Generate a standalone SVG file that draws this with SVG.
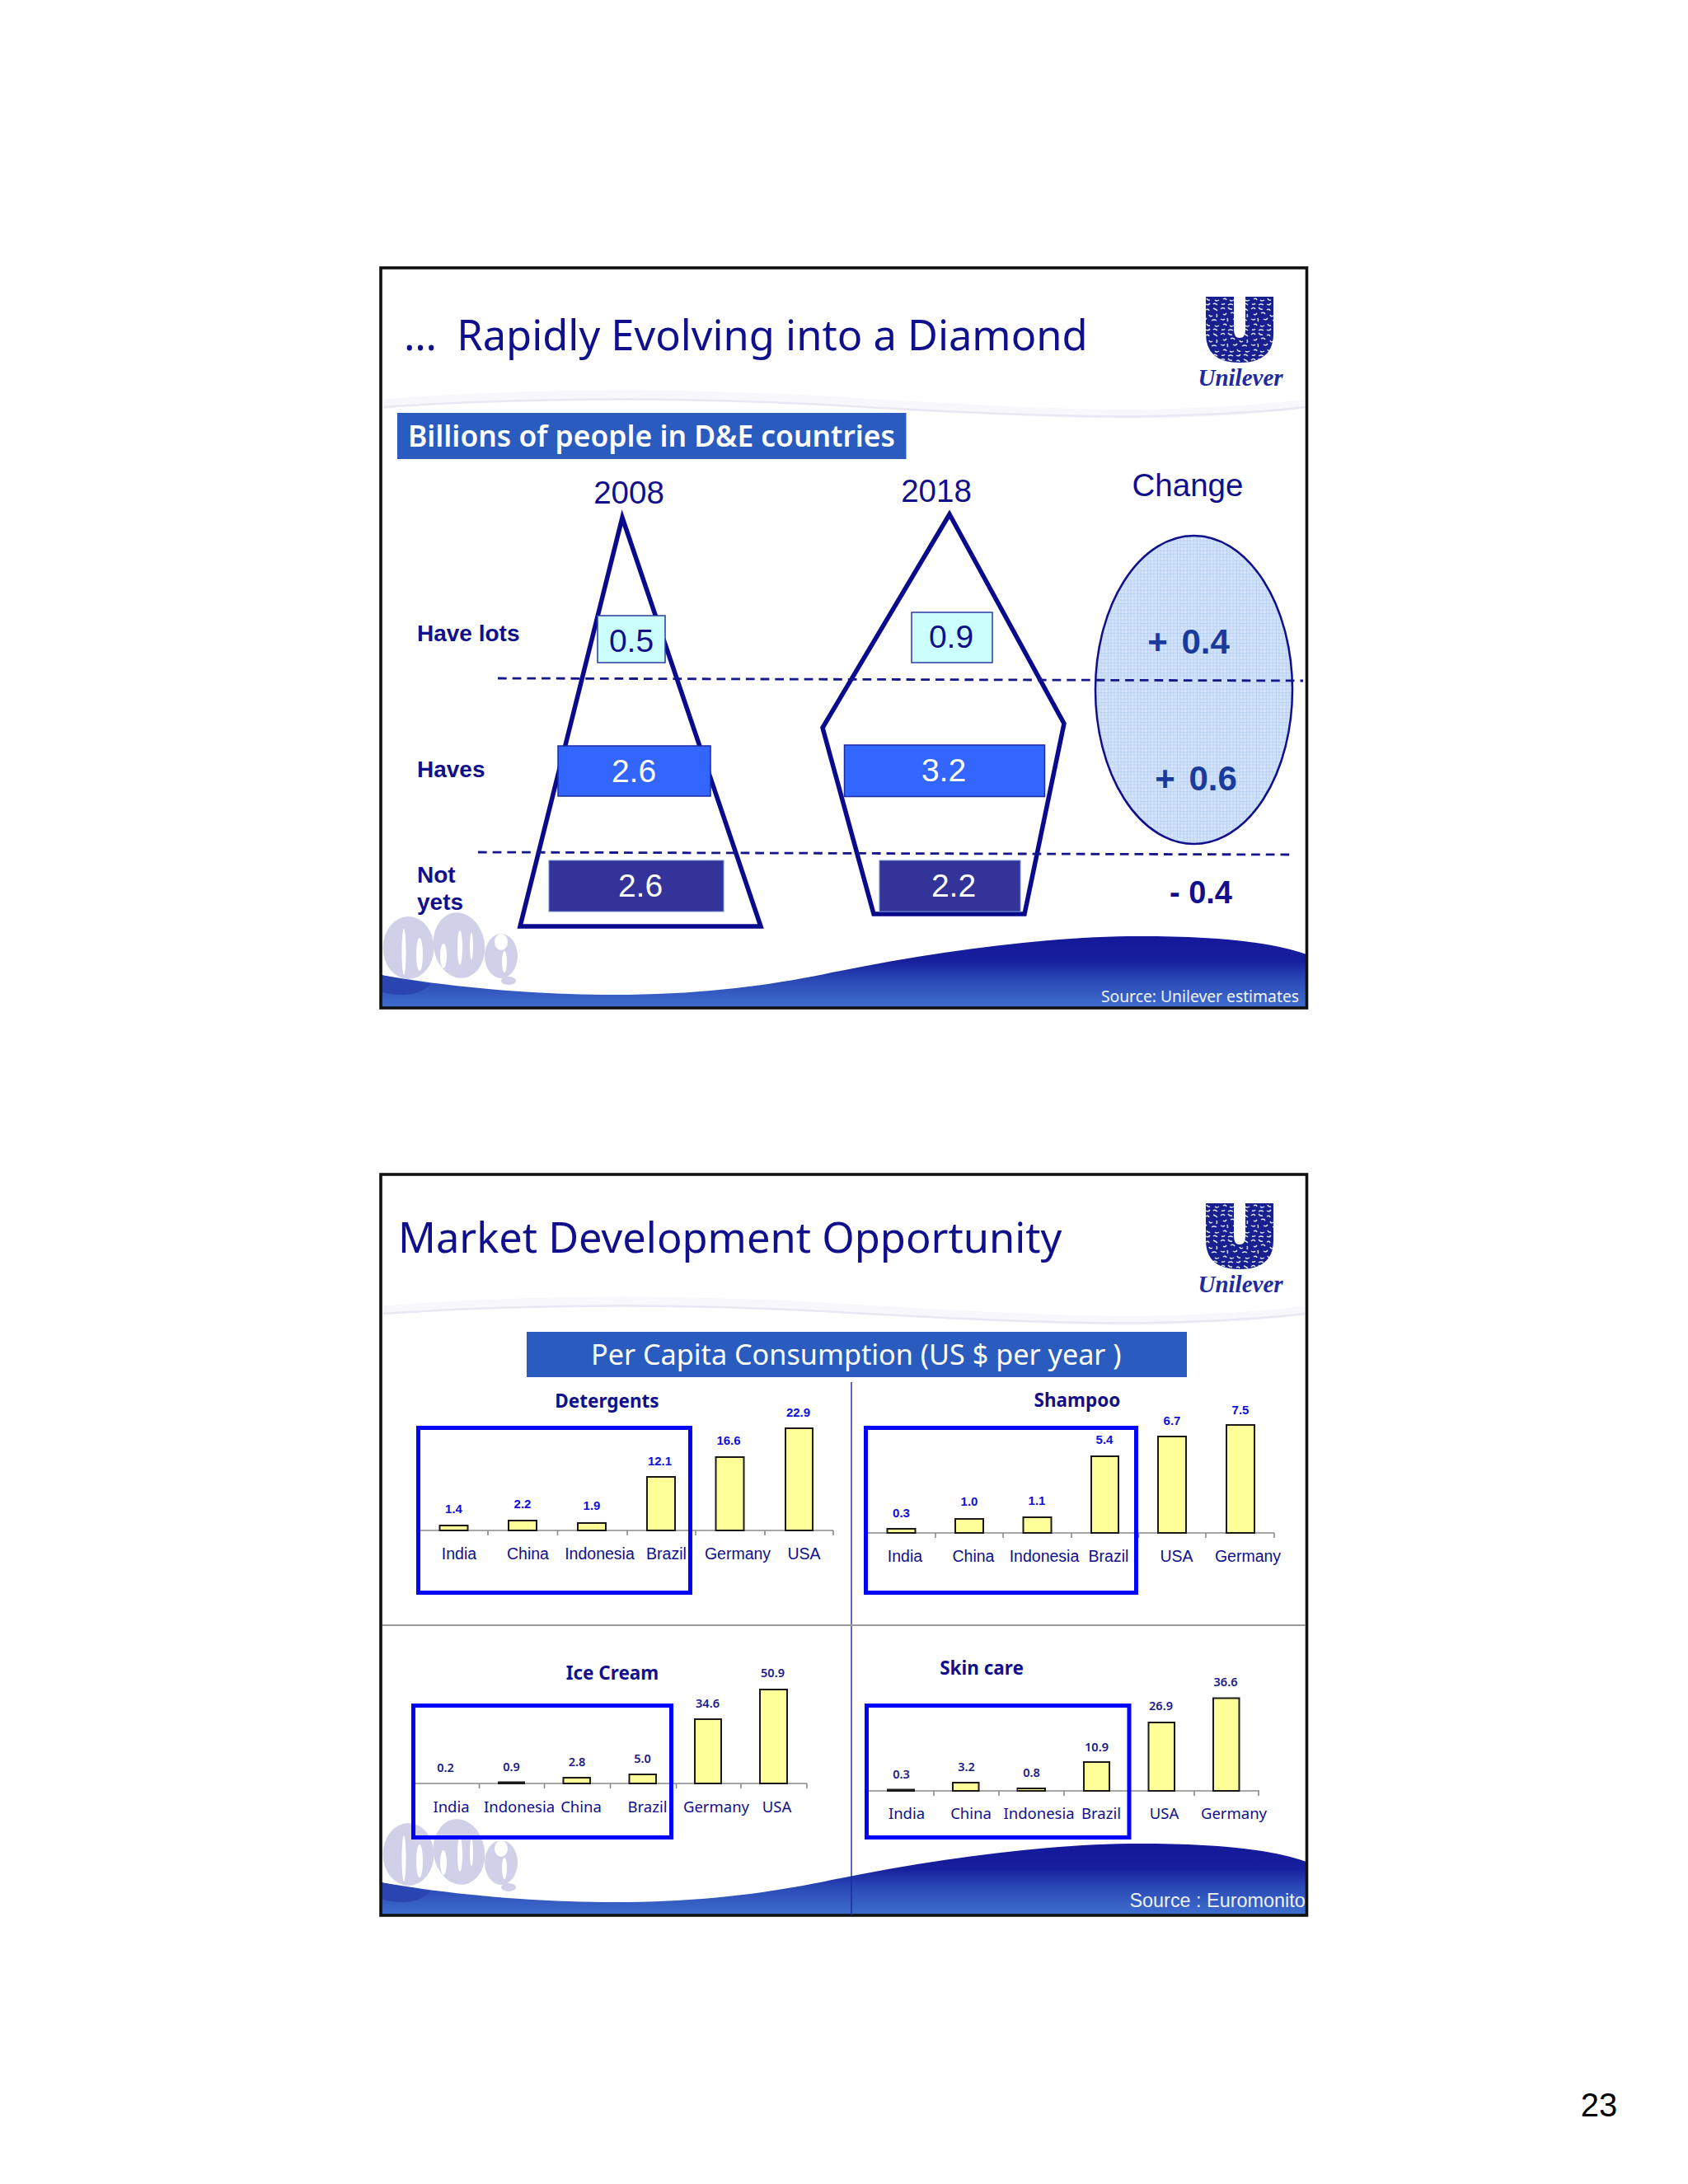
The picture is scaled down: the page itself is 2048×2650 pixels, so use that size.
<svg xmlns="http://www.w3.org/2000/svg" xmlns:xlink="http://www.w3.org/1999/xlink" width="2048" height="2650" viewBox="0 0 2048 2650">
<style>
text{font-family:"Liberation Sans",Arial,sans-serif;fill:#10108c}
.m{text-anchor:middle}
.noto{font-family:"Noto Sans","Open Sans",sans-serif}
.title{font-family:"Noto Sans","Open Sans",sans-serif;font-size:50.6px}
.panel{fill:#fff}
.frame{fill:none;stroke:#111;stroke-width:3.6}
.band{fill:#2a5bbf}
.yr{font-size:38.5px}
.num{font-size:39px;fill:#10108c;text-anchor:middle}
.wnum{font-size:39px;fill:#fff;text-anchor:middle}
.lab{font-size:28px;font-weight:bold}
.outline{fill:none;stroke:#0a0a8c;stroke-width:5.5;stroke-linejoin:miter}
.dash{stroke:#16168c;stroke-width:2.8;stroke-dasharray:10.7 7;fill:none}
.chg{font-size:42px;font-weight:bold;fill:#1a3a9c;text-anchor:middle;word-spacing:5px}
.bar{fill:#ffff99;stroke:#1a1a1a;stroke-width:2}
.axis{stroke:#8a8a8a;stroke-width:1.6;fill:none}
.hi{fill:none;stroke:#0000ff;stroke-width:5}
.v1{font-size:15px;font-weight:bold;fill:#1010dc;text-anchor:middle}
.v2{font-family:"Noto Sans","Open Sans",sans-serif;font-size:14.5px;font-weight:600;fill:#1a1a8c;text-anchor:middle}
.c1{font-size:19.5px;text-anchor:middle}
.c2{font-family:"Noto Sans","Open Sans",sans-serif;font-size:18.5px;text-anchor:middle}
.ct{font-family:"Noto Sans","Open Sans",sans-serif;font-size:22.5px;font-weight:bold;text-anchor:middle}
</style>
<defs>
<linearGradient id="waveFill" gradientUnits="userSpaceOnUse" x1="0" y1="1136" x2="0" y2="1223">
<stop offset="0" stop-color="#14189a"/><stop offset="0.35" stop-color="#171f9c"/><stop offset="0.6" stop-color="#2a48b4"/><stop offset="1" stop-color="#3f6fcf"/>
</linearGradient>
<pattern id="grid" patternUnits="userSpaceOnUse" width="12" height="12">
<rect width="12" height="12" fill="#d2e2f9"/>
<path d="M4 0V12M8 0V12M0 4H12M0 8H12" stroke="#bdd3f3" stroke-width="0.8" fill="none"/>
<path d="M0 0V12M0 0H12" stroke="#a9c6ec" stroke-width="1" fill="none"/>
<circle cx="6" cy="6" r="0.8" fill="#f4f8ff"/>
</pattern>
<pattern id="mottle" patternUnits="userSpaceOnUse" width="37" height="31">
<rect width="37" height="31" fill="#18208f"/>
<path d="M1 3q3-3 5 0M10 1q2 3 5 2M20 4q3-2 4 1M29 2q3 1 5 3M4 9q2 2 4-1M13 8q3-2 5 1M24 10q1 3 4 1M33 9q1 2 0 4M1 15q3 2 5 0M9 14q1 3 0 4M16 15q3 2 5-1M27 17q3-2 6 0M4 22q3-2 4 1M12 23q2 2 5 0M21 21q1 3 4 2M31 23q2 2 5 0M2 28q3 1 4-1M10 29q3-2 6 0M20 28q3 2 5-1M29 28q2-2 5 1" stroke="#dfe2f6" stroke-width="1.5" fill="none"/>
</pattern>
<g id="swoosh">
<path d="M465 490C640 476 820 476 1000 486C1150 495 1300 504 1400 502C1480 500 1540 496 1583 490" fill="none" stroke="#f8f8fc" stroke-width="11"/>
<path d="M465 494C640 482 820 482 1000 491C1150 500 1300 507 1400 505C1480 503 1540 499 1583 494" fill="none" stroke="#e9e7f3" stroke-width="2.5"/>
</g>
<g id="wave">
<path d="M462 1183C560 1200 660 1207 746 1207C850 1207 930 1196 1000 1182C1130 1155 1270 1136 1383 1136C1470 1136 1540 1142 1585 1158V1223H462Z" fill="url(#waveFill)"/>
<path d="M462 1183C480 1187 500 1190 522 1194C510 1208 485 1210 462 1203Z" fill="#2a44b0"/>
</g>
<g id="dna">
<ellipse cx="495.5" cy="1150" rx="31" ry="38" fill="#d0d1e9"/>
<ellipse cx="557" cy="1147" rx="31" ry="40" transform="rotate(-10 557 1147)" fill="#d0d1e9"/>
<ellipse cx="608" cy="1160" rx="20" ry="27" fill="#d0d1e9"/>
<ellipse cx="617" cy="1190" rx="9" ry="5" fill="#d0d1e9"/>
<ellipse cx="490" cy="1155" rx="2.5" ry="28" fill="#fff"/>
<ellipse cx="509" cy="1158" rx="4" ry="20" fill="#fff"/>
<ellipse cx="538" cy="1160" rx="4" ry="15" fill="#fff"/>
<ellipse cx="558" cy="1150" rx="3" ry="21" fill="#fff"/>
<ellipse cx="572" cy="1148" rx="2" ry="16" fill="#fff"/>
<ellipse cx="608" cy="1143" rx="8" ry="10" fill="#fff"/>
<ellipse cx="612" cy="1167" rx="3" ry="13" fill="#fff"/>
</g>
<g id="logo">
<path d="M1463 360H1497V400Q1497 410 1504 410Q1511 410 1511 400V360H1545V405Q1545 440 1504 440Q1463 440 1463 405Z" fill="url(#mottle)"/>
<text x="1505" y="468" text-anchor="middle" style="font-family:'Liberation Serif',serif;font-weight:bold;font-style:italic;font-size:29px;fill:#1f2a9e">Unilever</text>
</g>
</defs>
<rect width="2048" height="2650" fill="#fff"/>

<g id="slide1">
<rect class="panel" x="462" y="325" width="1123.5" height="898"/>
<use xlink:href="#swoosh" href="#swoosh"/>
<use xlink:href="#dna" href="#dna"/>
<use xlink:href="#wave" href="#wave"/>
<rect class="frame" x="462" y="325" width="1123.5" height="898"/>
<use xlink:href="#logo" href="#logo"/>
<text id="title1" class="title" x="490" y="425">…<tspan dx="11"> Rapidly Evolving into a Diamond</tspan></text>
<g id="band1"><rect class="band" x="482" y="501" width="617.5" height="56"/>
<text class="noto" x="495" y="542" font-size="35.4" font-weight="600" style="fill:#fff">Billions of people in D&amp;E countries</text></g>
<text class="yr m" x="763" y="611">2008</text>
<text class="yr m" x="1136" y="609">2018</text>
<text class="yr m" x="1441" y="602">Change</text>
<g id="row-labels">
<text class="lab" x="506" y="778">Have lots</text>
<text class="lab" x="506" y="943">Haves</text>
<text class="lab" x="506" y="1071">Not</text>
<text class="lab" x="506" y="1104">yets</text>
</g>
<g id="change-ellipse"><ellipse cx="1448.5" cy="837" rx="119.5" ry="187" fill="url(#grid)" stroke="#10108c" stroke-width="2.5"/></g>
<g id="pyramid2008"><path class="outline" d="M755 628L631 1124H923Z"/></g>
<g id="pyramid2018"><path class="outline" d="M1152 624L998 883L1060 1109H1243L1291 878Z"/></g>
<g id="connectors">
<path class="dash" d="M604 823L1581 826"/>
<path class="dash" d="M580 1034L1569 1037"/>
</g>
<g id="box-05"><rect x="725" y="747" width="82" height="57" fill="#ccffff" stroke="#2a3aa0" stroke-width="1.5"/><text class="num" x="766" y="791">0.5</text></g>
<g id="box-09"><rect x="1106" y="743" width="98" height="61" fill="#ccffff" stroke="#2a3aa0" stroke-width="1.5"/><text class="num" x="1154" y="786">0.9</text></g>
<g id="box-26a"><rect x="677" y="905" width="185" height="61" fill="#3366ff" stroke="#1a2aa0" stroke-width="1.5"/><text class="wnum" x="769" y="949">2.6</text></g>
<g id="box-32"><rect x="1024.5" y="904" width="243" height="62.5" fill="#3366ff" stroke="#1a2aa0" stroke-width="1.5"/><text class="wnum" x="1145" y="948">3.2</text></g>
<g id="box-26b"><rect x="666" y="1044" width="212" height="62" fill="#333399" stroke="#6b8fd0" stroke-width="1"/><text class="wnum" x="777" y="1088">2.6</text></g>
<g id="box-22"><rect x="1067" y="1044" width="171" height="62" fill="#333399" stroke="#6b8fd0" stroke-width="1"/><text class="wnum" x="1157" y="1088">2.2</text></g>
<text class="chg" x="1442" y="793">+ 0.4</text>
<text class="chg" x="1451" y="959">+ 0.6</text>
<text class="chg" x="1457" y="1096" style="font-size:38px;fill:#10108c;word-spacing:0">- 0.4</text>
<text class="noto" x="1576" y="1216" text-anchor="end" font-size="19.3" style="fill:#f2f4fb">Source: Unilever estimates</text>
</g>

<g id="slide2">
<rect class="panel" x="462" y="1425" width="1123.5" height="899"/>
<use xlink:href="#swoosh" href="#swoosh" y="1100"/>
<use xlink:href="#dna" href="#dna" y="1100"/>
<use xlink:href="#wave" href="#wave" y="1101"/>
<rect class="frame" x="462" y="1425" width="1123.5" height="899"/>
<use xlink:href="#logo" href="#logo" y="1100"/>
<text id="title2" class="title" x="483" y="1520">Market Development Opportunity</text>
<g id="band2"><rect class="band" x="639" y="1616" width="801" height="55"/>
<text class="noto" x="717" y="1656" font-size="34.2" style="fill:#fff">Per Capita Consumption (US $ per year )</text></g>
<path d="M1033 1677V2324" stroke="#1a2a9c" stroke-width="1.4" fill="none"/>
<path d="M464 1972H1584" stroke="#9a9a9a" stroke-width="2" fill="none"/>

<g id="chart-detergents">
<text class="ct" x="736.5" y="1708">Detergents</text>
<path class="axis" d="M510 1857H1011M592 1857v6M676.5 1857v6M761 1857v6M844 1857v6M928 1857v6M1011 1857v6"/>
<rect class="bar" x="533.5" y="1851" width="34" height="6"/>
<rect class="bar" x="617" y="1845" width="34" height="12"/>
<rect class="bar" x="701" y="1848" width="34" height="9"/>
<rect class="bar" x="785" y="1792" width="34" height="65"/>
<rect class="bar" x="868.5" y="1768" width="34" height="89"/>
<rect class="bar" x="953" y="1733" width="33" height="124"/>
<rect class="hi" x="507.5" y="1732.5" width="330" height="200"/>
<text class="v1" x="550.5" y="1836">1.4</text><text class="v1" x="634" y="1830">2.2</text><text class="v1" x="718" y="1832">1.9</text><text class="v1" x="800.5" y="1778">12.1</text><text class="v1" x="884" y="1753">16.6</text><text class="v1" x="968.5" y="1719">22.9</text>
<text class="c1" x="557" y="1892">India</text><text class="c1" x="640.5" y="1892">China</text><text class="c1" x="727.5" y="1892">Indonesia</text><text class="c1" x="808.5" y="1892">Brazil</text><text class="c1" x="895" y="1892">Germany</text><text class="c1" x="975.5" y="1892">USA</text>
</g>

<g id="chart-shampoo">
<text class="ct" x="1307" y="1707">Shampoo</text>
<path class="axis" d="M1053 1860H1546M1135 1860v6M1217 1860v6M1300 1860v6M1381.5 1860v6M1463 1860v6M1546 1860v6"/>
<rect class="bar" x="1076.5" y="1855" width="34" height="5"/>
<rect class="bar" x="1159" y="1843" width="34" height="17"/>
<rect class="bar" x="1241.5" y="1841" width="34" height="19"/>
<rect class="bar" x="1324" y="1767" width="33" height="93"/>
<rect class="bar" x="1405" y="1743" width="34" height="117"/>
<rect class="bar" x="1488" y="1729" width="34" height="131"/>
<rect class="hi" x="1050.5" y="1732.5" width="328" height="200"/>
<text class="v1" x="1093.5" y="1841">0.3</text><text class="v1" x="1176" y="1827">1.0</text><text class="v1" x="1258" y="1826">1.1</text><text class="v1" x="1340" y="1752">5.4</text><text class="v1" x="1422" y="1729">6.7</text><text class="v1" x="1505" y="1716">7.5</text>
<text class="c1" x="1098" y="1895">India</text><text class="c1" x="1181" y="1895">China</text><text class="c1" x="1267" y="1895">Indonesia</text><text class="c1" x="1345" y="1895">Brazil</text><text class="c1" x="1427.5" y="1895">USA</text><text class="c1" x="1514" y="1895">Germany</text>
</g>

<g id="chart-icecream">
<text class="ct" x="743" y="2038">Ice Cream</text>
<path class="axis" d="M503 2164H979M581.5 2164v6M660.5 2164v6M740.5 2164v6M820.5 2164v6M899 2164v6M979 2164v6"/>
<rect class="bar" x="605" y="2162.5" width="31" height="1.5"/>
<rect class="bar" x="683.5" y="2157" width="32.5" height="7"/>
<rect class="bar" x="763.5" y="2153" width="32.5" height="11"/>
<rect class="bar" x="843" y="2086" width="32" height="78"/>
<rect class="bar" x="922" y="2050" width="33" height="114"/>
<rect class="hi" x="501.5" y="2069.5" width="313" height="160"/>
<text class="v2" x="540.5" y="2150">0.2</text><text class="v2" x="620.5" y="2149">0.9</text><text class="v2" x="700" y="2143">2.8</text><text class="v2" x="779.5" y="2139">5.0</text><text class="v2" x="858.5" y="2072">34.6</text><text class="v2" x="937.5" y="2035">50.9</text>
<text class="c2" x="547.5" y="2199">India</text><text class="c2" x="630" y="2199">Indonesia</text><text class="c2" x="705" y="2199">China</text><text class="c2" x="785.5" y="2199">Brazil</text><text class="c2" x="869" y="2199">Germany</text><text class="c2" x="942.5" y="2199">USA</text>
</g>

<g id="chart-skincare">
<text class="ct" x="1191" y="2032">Skin care</text>
<path class="axis" d="M1054 2173H1528M1133 2173v6M1212 2173v6M1291 2173v6M1370 2173v6M1449 2173v6M1527 2173v6"/>
<rect class="bar" x="1077" y="2171.5" width="32" height="1.5"/>
<rect class="bar" x="1156" y="2163" width="31.5" height="10"/>
<rect class="bar" x="1234.5" y="2170" width="33.5" height="3"/>
<rect class="bar" x="1315" y="2138" width="31" height="35"/>
<rect class="bar" x="1393.5" y="2090" width="31.5" height="83"/>
<rect class="bar" x="1472" y="2060.5" width="31.5" height="112.5"/>
<rect class="hi" x="1051.5" y="2069.5" width="318.5" height="160"/>
<text class="v2" x="1093.5" y="2158">0.3</text><text class="v2" x="1172.5" y="2149">3.2</text><text class="v2" x="1251.5" y="2156">0.8</text><text class="v2" x="1330.5" y="2125">10.9</text><text class="v2" x="1408.5" y="2075">26.9</text><text class="v2" x="1487" y="2046">36.6</text>
<text class="c2" x="1100" y="2207">India</text><text class="c2" x="1178" y="2207">China</text><text class="c2" x="1260.5" y="2207">Indonesia</text><text class="c2" x="1336" y="2207">Brazil</text><text class="c2" x="1412.5" y="2207">USA</text><text class="c2" x="1497" y="2207">Germany</text>
</g>
<text x="1370.5" y="2314" font-size="23.4" style="fill:#eef1fa">Source : Euromonito</text>
</g>

<text id="page-number" class="m" x="1940" y="2568" font-size="40" style="fill:#000">23</text>
</svg>
